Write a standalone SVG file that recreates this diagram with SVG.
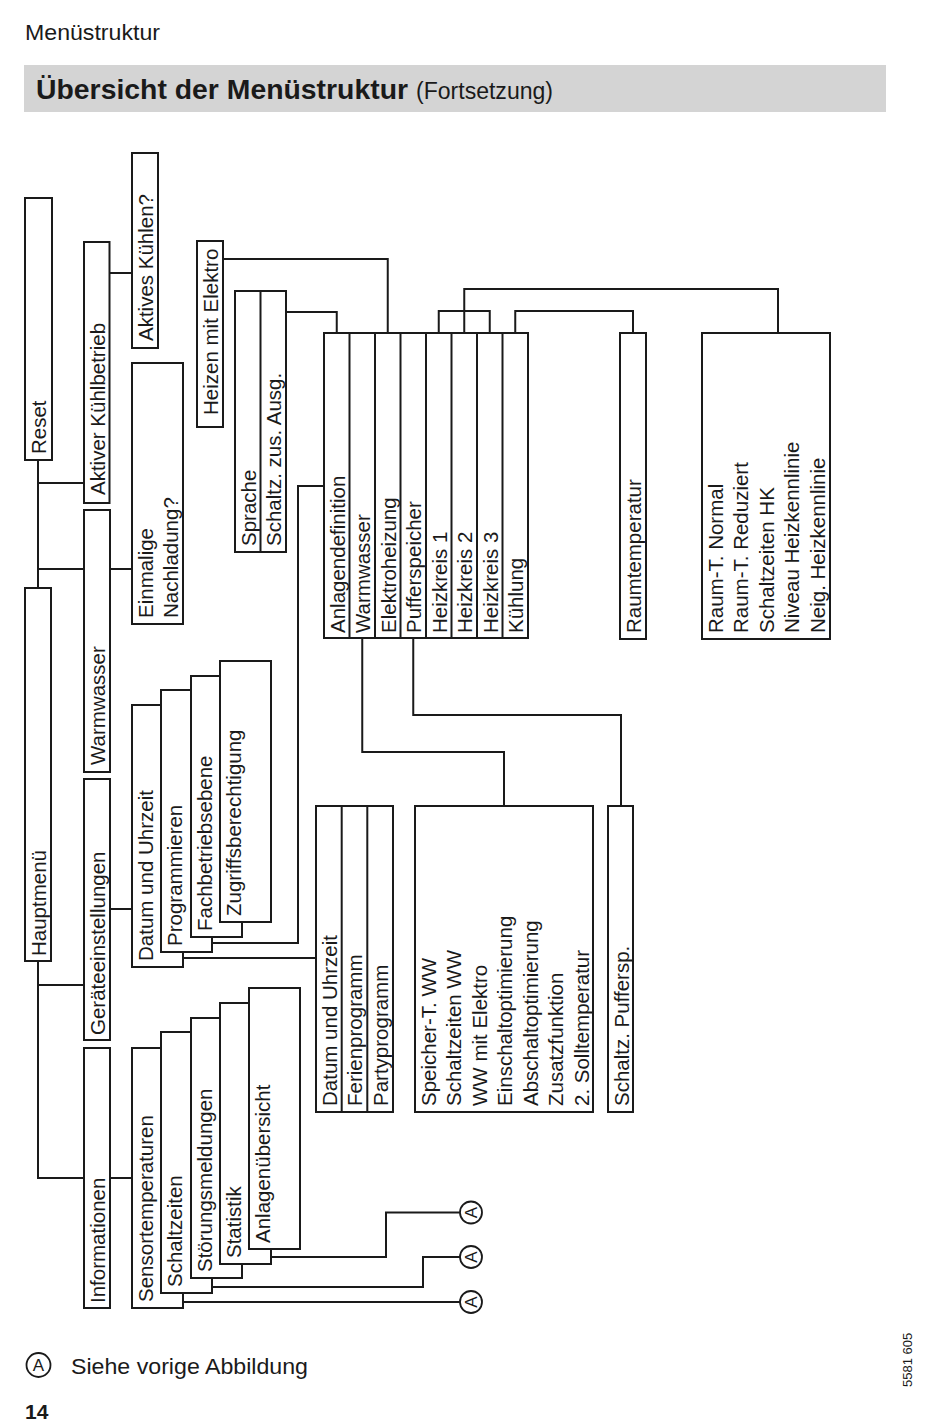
<svg xmlns="http://www.w3.org/2000/svg" width="950" height="1426" viewBox="0 0 950 1426">
<style>
.box{fill:#fff;stroke:#1a1a1a;stroke-width:2}
.div{stroke:#1a1a1a;stroke-width:2}
.ln{fill:none;stroke:#1a1a1a;stroke-width:2}
.t{font-family:"Liberation Sans",Arial,sans-serif;font-size:20.5px;fill:#1a1a1a}
.ct{font-family:"Liberation Sans",Arial,sans-serif;font-size:17px;fill:#1a1a1a;text-anchor:middle}
.circ{fill:#fff;stroke:#1a1a1a;stroke-width:1.8}
</style>
<rect width="950" height="1426" fill="#fff"/>
<g id="header">
<text x="25" y="40" textLength="135" lengthAdjust="spacingAndGlyphs" style="font-family:'Liberation Sans',Arial,sans-serif;font-size:22px;fill:#1a1a1a">Menüstruktur</text>
<rect x="24" y="65" width="862" height="47" fill="#d4d4d4"/>
<text x="36" y="99" textLength="372" lengthAdjust="spacingAndGlyphs" style="font-family:'Liberation Sans',Arial,sans-serif;font-size:28px;font-weight:bold;fill:#1a1a1a">Übersicht der Menüstruktur</text>
<text x="416" y="99" textLength="137" lengthAdjust="spacingAndGlyphs" style="font-family:'Liberation Sans',Arial,sans-serif;font-size:23px;fill:#1a1a1a">(Fortsetzung)</text>
</g>
<g id="connectors">
<path class="ln" d="M38,460 V588"/>
<path class="ln" d="M38,483 H84"/>
<path class="ln" d="M38,569 H132"/>
<path class="ln" d="M38,961 V1178 H132"/>
<path class="ln" d="M38,985 H84"/>
<path class="ln" d="M109,273 H132"/>
<path class="ln" d="M110,909 H132"/>
<path class="ln" d="M223,259 H387.75 V333"/>
<path class="ln" d="M286,312 H336.75 V333"/>
<path class="ln" d="M324,486 H298 V943 H212"/>
<path class="ln" d="M183,958 H316"/>
<path class="ln" d="M438.75,333 V311 H489.75 V333"/>
<path class="ln" d="M464.25,333 V289 H778 V333"/>
<path class="ln" d="M515.25,333 V311 H633 V333"/>
<path class="ln" d="M362.25,638 V752 H504 V806"/>
<path class="ln" d="M413.25,638 V715 H621 V806"/>
<path class="ln" d="M183,1302 H460"/>
<path class="ln" d="M212,1287 H423 V1257 H460"/>
<path class="ln" d="M271,1257 H386 V1212.5 H460"/>
</g>
<g id="reset"><rect class="box" x="25" y="198" width="27" height="262"/><text class="t" transform="translate(45.5,454) rotate(-90)">Reset</text></g>
<g id="hauptmenue"><rect class="box" x="25" y="588" width="26" height="373"/><text class="t" transform="translate(45.5,956) rotate(-90)">Hauptmenü</text></g>
<g id="aktiver-kuehlbetrieb"><rect class="box" x="84" y="242" width="25.5" height="261"/><text class="t" transform="translate(104.5,495) rotate(-90)">Aktiver Kühlbetrieb</text></g>
<g id="warmwasser"><rect class="box" x="84" y="510" width="26" height="262"/><text class="t" transform="translate(104.5,765) rotate(-90)">Warmwasser</text></g>
<g id="geraeteeinstellungen"><rect class="box" x="84" y="779" width="26" height="261"/><text class="t" transform="translate(104.5,1035) rotate(-90)">Geräteeinstellungen</text></g>
<g id="informationen"><rect class="box" x="84" y="1048" width="26" height="260"/><text class="t" transform="translate(104.5,1303) rotate(-90)">Informationen</text></g>
<g id="aktives-kuehlen"><rect class="box" x="132" y="153" width="26" height="195"/><text class="t" transform="translate(152.5,341) rotate(-90)">Aktives Kühlen?</text></g>
<g id="einmalige-nachladung"><rect class="box" x="132" y="363" width="51" height="261"/><text class="t" transform="translate(152.5,618) rotate(-90)">Einmalige</text><text class="t" transform="translate(178,618) rotate(-90)">Nachladung?</text></g>
<g id="heizen-mit-elektro"><rect class="box" x="197" y="241" width="26" height="186"/><text class="t" transform="translate(217.5,415) rotate(-90)">Heizen mit Elektro</text></g>
<g id="sprache-schaltz"><rect class="box" x="235" y="291" width="51" height="261"/><line class="div" x1="260.5" y1="291" x2="260.5" y2="552"/><text class="t" transform="translate(255.5,546) rotate(-90)">Sprache</text><text class="t" transform="translate(281,546) rotate(-90)">Schaltz. zus. Ausg.</text></g>
<g id="datum-uhrzeit"><rect class="box" x="132" y="705" width="51" height="262"/><text class="t" transform="translate(152.5,961) rotate(-90)">Datum und Uhrzeit</text></g>
<g id="programmieren"><rect class="box" x="161" y="690" width="51" height="262"/><text class="t" transform="translate(181.5,946) rotate(-90)">Programmieren</text></g>
<g id="fachbetriebsebene"><rect class="box" x="191" y="676" width="51" height="261"/><text class="t" transform="translate(211.5,931) rotate(-90)">Fachbetriebsebene</text></g>
<g id="zugriffsberechtigung"><rect class="box" x="220" y="661" width="51" height="261"/><text class="t" transform="translate(240.5,916) rotate(-90)">Zugriffsberechtigung</text></g>
<g id="sensortemperaturen"><rect class="box" x="132" y="1048" width="51" height="260"/><text class="t" transform="translate(152.5,1302) rotate(-90)">Sensortemperaturen</text></g>
<g id="schaltzeiten"><rect class="box" x="161" y="1032" width="51" height="261"/><text class="t" transform="translate(181.5,1287) rotate(-90)">Schaltzeiten</text></g>
<g id="stoerungsmeldungen"><rect class="box" x="191" y="1018" width="51" height="260"/><text class="t" transform="translate(211.5,1272) rotate(-90)">Störungsmeldungen</text></g>
<g id="statistik"><rect class="box" x="220" y="1003" width="51" height="261"/><text class="t" transform="translate(240.5,1258) rotate(-90)">Statistik</text></g>
<g id="anlagenuebersicht"><rect class="box" x="249" y="988" width="51" height="261"/><text class="t" transform="translate(269.5,1243) rotate(-90)">Anlagenübersicht</text></g>
<g id="anlagendefinition-stack">
<rect class="box" x="324" y="333" width="204" height="305"/>
<path class="div" d="M349.5,333 V638 M375,333 V638 M400.5,333 V638 M426,333 V638 M451.5,333 V638 M477,333 V638 M502.5,333 V638"/>
<text class="t" transform="translate(344.5,633) rotate(-90)">Anlagendefinition</text>
<text class="t" transform="translate(370,633) rotate(-90)">Warmwasser</text>
<text class="t" transform="translate(395.5,633) rotate(-90)">Elektroheizung</text>
<text class="t" transform="translate(421,633) rotate(-90)">Pufferspeicher</text>
<text class="t" transform="translate(446.5,633) rotate(-90)">Heizkreis 1</text>
<text class="t" transform="translate(472,633) rotate(-90)">Heizkreis 2</text>
<text class="t" transform="translate(497.5,633) rotate(-90)">Heizkreis 3</text>
<text class="t" transform="translate(523,633) rotate(-90)">Kühlung</text>
</g>
<g id="raumtemperatur"><rect class="box" x="620" y="333" width="26" height="306"/><text class="t" transform="translate(640.5,633) rotate(-90)">Raumtemperatur</text></g>
<g id="heizkreis-menue">
<rect class="box" x="702" y="333" width="128" height="306"/>
<text class="t" transform="translate(722.5,633) rotate(-90)">Raum-T. Normal</text>
<text class="t" transform="translate(748,633) rotate(-90)">Raum-T. Reduziert</text>
<text class="t" transform="translate(773.5,633) rotate(-90)">Schaltzeiten HK</text>
<text class="t" transform="translate(799,633) rotate(-90)">Niveau Heizkennlinie</text>
<text class="t" transform="translate(824.5,633) rotate(-90)">Neig. Heizkennlinie</text>
</g>
<g id="zeitprogramme">
<rect class="box" x="316" y="806" width="77" height="306"/>
<path class="div" d="M341.7,806 V1112 M367.3,806 V1112"/>
<text class="t" transform="translate(336.5,1106) rotate(-90)">Datum und Uhrzeit</text>
<text class="t" transform="translate(362,1106) rotate(-90)">Ferienprogramm</text>
<text class="t" transform="translate(387.5,1106) rotate(-90)">Partyprogramm</text>
</g>
<g id="warmwasser-menue">
<rect class="box" x="415" y="806" width="178" height="306"/>
<text class="t" transform="translate(435.5,1106) rotate(-90)">Speicher-T. WW</text>
<text class="t" transform="translate(461,1106) rotate(-90)">Schaltzeiten WW</text>
<text class="t" transform="translate(486.5,1106) rotate(-90)">WW mit Elektro</text>
<text class="t" transform="translate(512,1106) rotate(-90)">Einschaltoptimierung</text>
<text class="t" transform="translate(537.5,1106) rotate(-90)">Abschaltoptimierung</text>
<text class="t" transform="translate(563,1106) rotate(-90)">Zusatzfunktion</text>
<text class="t" transform="translate(588.5,1106) rotate(-90)">2. Solltemperatur</text>
</g>
<g id="schaltz-puffersp"><rect class="box" x="608" y="806" width="25" height="306"/><text class="t" transform="translate(628.5,1106) rotate(-90)">Schaltz. Puffersp.</text></g>
<g id="ref-a1"><circle class="circ" cx="471" cy="1212.5" r="11"/><text class="ct" transform="translate(477,1212.5) rotate(-90)">A</text></g>
<g id="ref-a2"><circle class="circ" cx="471" cy="1257" r="11"/><text class="ct" transform="translate(477,1257) rotate(-90)">A</text></g>
<g id="ref-a3"><circle class="circ" cx="471" cy="1302" r="11"/><text class="ct" transform="translate(477,1302) rotate(-90)">A</text></g>
<g id="legend">
<circle class="circ" cx="38.5" cy="1365" r="12"/>
<text class="ct" x="38.5" y="1371">A</text>
<text x="71" y="1374" textLength="237" lengthAdjust="spacingAndGlyphs" style="font-family:'Liberation Sans',Arial,sans-serif;font-size:22px;fill:#1a1a1a">Siehe vorige Abbildung</text>
</g>
<text x="25" y="1419" style="font-family:'Liberation Sans',Arial,sans-serif;font-size:21px;font-weight:bold;fill:#1a1a1a">14</text>
<text transform="translate(912,1387) rotate(-90)" style="font-family:'Liberation Sans',Arial,sans-serif;font-size:13px;fill:#1a1a1a">5581 605</text>
</svg>
